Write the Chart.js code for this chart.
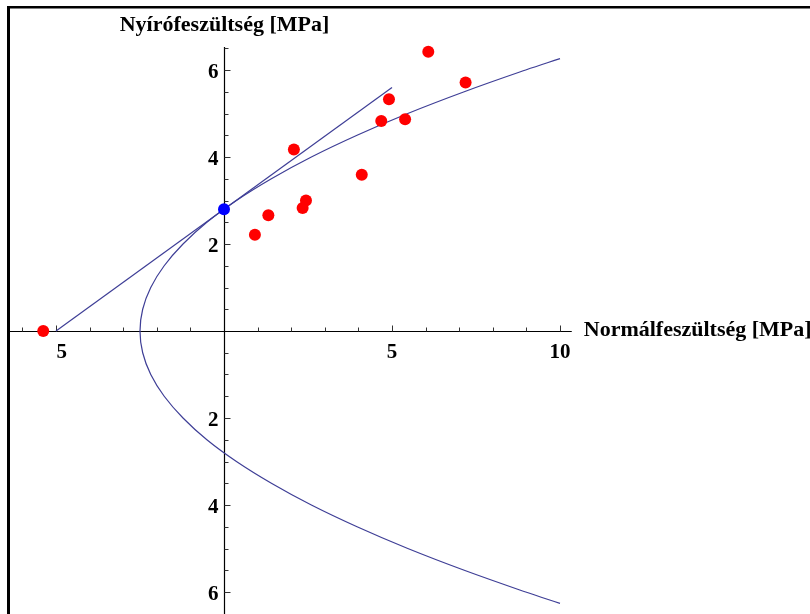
<!DOCTYPE html>
<html>
<head>
<meta charset="utf-8">
<script src="https://cdn.jsdelivr.net/npm/chart.js@4/dist/chart.umd.min.js"></script>
<style>
  html, body { margin: 0; padding: 0; background: #ffffff; }
  #wrap { width: 810px; height: 614px; position: relative; }
</style>
</head>
<body>
<div id="wrap"><canvas id="c" width="810" height="614"></canvas></div>
<script>
// ---- data ----
const measuredSigma = [-5.38, 0.92, 1.32, 2.08, 2.34, 2.44, 4.10, 4.68, 4.91, 5.39, 6.08, 7.19];
const measuredTau   = [0.00, 2.21, 2.66, 4.17, 2.83, 3.00, 3.59, 4.83, 5.33, 4.87, 6.42, 5.71];
const cohesionSigma = [0];
const cohesionTau   = [2.8];
const tangentSigma  = [-5, 5];
const tangentTau    = [0, 5.6];
const envelopeSigma = [10.0, 8.98, 7.15, 5.47, 3.96, 2.60, 1.41, 0.37, -0.51, -1.22, -1.78, -2.18, -2.42, -2.5,
                       -2.42, -2.18, -1.78, -1.22, -0.51, 0.37, 1.41, 2.60, 3.96, 5.47, 7.15, 8.98, 10.0];
const envelopeTau   = [-6.26, -6.0, -5.5, -5.0, -4.5, -4.0, -3.5, -3.0, -2.5, -2.0, -1.5, -1.0, -0.5, 0,
                       0.5, 1.0, 1.5, 2.0, 2.5, 3.0, 3.5, 4.0, 4.5, 5.0, 5.5, 6.0, 6.26];
const xTickValues = [-5, 5, 10];
const xTickLabels = ["5", "5", "10"];
const yTickValues = [6, 4, 2, -2, -4, -6];
const yTickLabels = ["6", "4", "2", "2", "4", "6"];
const xTitle = "Normálfeszültség [MPa]";
const yTitle = "Nyírófeszültség [MPa]";

const pts = (xs, ys) => xs.map((x, i) => ({ x: x, y: ys[i] }));

const curveColor = 'rgb(62,62,150)';
const FONT = "bold 21px 'Liberation Serif', 'Times New Roman', serif";

const axesPlugin = {
  id: 'mathAxes',
  beforeDatasetsDraw(chart) {
    const ctx = chart.ctx;
    const xs = chart.scales.x, ys = chart.scales.y;
    const X = v => xs.getPixelForValue(v);
    const Y = v => ys.getPixelForValue(v);
    const x0 = Math.round(X(0)) + 0.5, y0 = Math.round(Y(0)) + 0.5;
    ctx.save();
    // frame (top and left)
    ctx.fillStyle = '#000';
    ctx.fillRect(7, 6, 803, 2.5);
    ctx.fillRect(7, 6, 3, 608);
    // axes lines
    ctx.strokeStyle = '#000';
    ctx.lineWidth = 1.2;
    ctx.beginPath();
    ctx.moveTo(9, y0); ctx.lineTo(X(10.35), y0);
    ctx.moveTo(x0, Y(6.53)); ctx.lineTo(x0, 614);
    ctx.stroke();
    // x ticks (pointing up)
    ctx.lineWidth = 1;
    ctx.strokeStyle = '#333';
    ctx.beginPath();
    for (let v = -6; v <= 10; v++) {
      if (v === 0) continue;
      const len = (v % 5 === 0) ? 6 : 4;
      const px = Math.round(X(v)) + 0.5;
      ctx.moveTo(px, y0); ctx.lineTo(px, y0 - len);
    }
    // y ticks (pointing right)
    for (let k = -13; k <= 13; k++) {
      if (k === 0) continue;
      const v = k / 2;
      const len = (k % 4 === 0) ? 6 : 4;
      const py = Math.round(Y(v)) + 0.5;
      ctx.moveTo(x0, py); ctx.lineTo(x0 + len, py);
    }
    ctx.stroke();
    // tick labels
    ctx.fillStyle = '#000';
    ctx.font = FONT;
    ctx.textBaseline = 'alphabetic';
    xTickValues.forEach((v, i) => {
      if (v < 0) { ctx.textAlign = 'left'; ctx.fillText(xTickLabels[i], X(v) + 0.5, y0 + 26); }
      else { ctx.textAlign = 'center'; ctx.fillText(xTickLabels[i], X(v), y0 + 26); }
    });
    ctx.textAlign = 'right';
    yTickValues.forEach((v, i) => {
      ctx.fillText(yTickLabels[i], x0 - 6, Y(v) + 7.5);
    });
    // axis titles
    ctx.font = "bold 22px 'Liberation Serif', 'Times New Roman', serif";
    ctx.textAlign = 'center';
    ctx.fillText(yTitle, x0, 31);
    ctx.textAlign = 'left';
    ctx.fillText(xTitle, X(10.35) + 12, y0 + 4);
    ctx.restore();
  }
};

new Chart(document.getElementById('c'), {
  type: 'scatter',
  data: {
    datasets: [
      {
        label: 'mért',
        data: pts(measuredSigma, measuredTau),
        backgroundColor: 'rgb(255,0,0)',
        borderWidth: 0,
        pointRadius: 6,
        order: 0,
        clip: false
      },
      {
        label: 'kohézió',
        data: pts(cohesionSigma, cohesionTau),
        backgroundColor: 'rgb(0,0,255)',
        borderWidth: 0,
        pointRadius: 6,
        order: 0,
        clip: false
      },
      {
        label: 'érintő',
        data: pts(tangentSigma, tangentTau),
        showLine: true,
        borderColor: curveColor,
        borderWidth: 1.2,
        pointRadius: 0,
        order: 1,
        clip: false
      },
      {
        label: 'burkoló',
        data: pts(envelopeSigma, envelopeTau),
        showLine: true,
        borderColor: curveColor,
        borderWidth: 1.2,
        pointRadius: 0,
        tension: 0.4,
        order: 1,
        clip: false
      }
    ]
  },
  options: {
    responsive: false,
    animation: false,
    devicePixelRatio: 1,
    layout: { padding: 0, autoPadding: false },
    plugins: { legend: { display: false }, tooltip: { enabled: false } },
    scales: {
      x: { type: 'linear', display: false, min: -224 / 33.6, max: (810 - 224) / 33.6 },
      y: { type: 'linear', display: false, min: -(614 - 331) / 43.5, max: 331 / 43.5 }
    }
  },
  plugins: [axesPlugin]
});
</script>
</body>
</html>
